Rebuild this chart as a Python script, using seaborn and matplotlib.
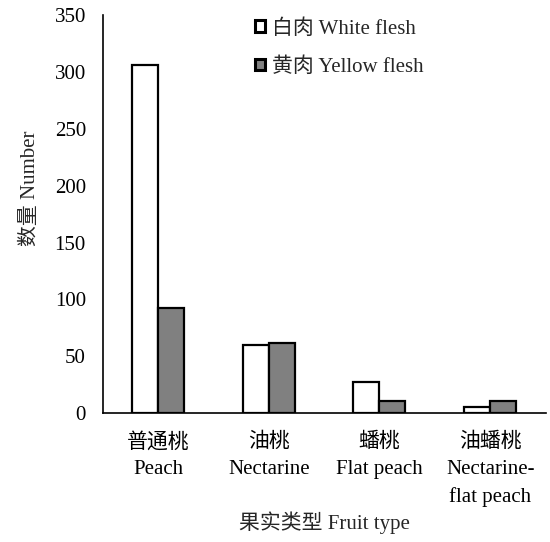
import matplotlib
matplotlib.use("Agg")
import matplotlib.pyplot as plt
import seaborn as sns
import pandas as pd
from matplotlib.patches import Patch

categories = ["普通桃\nPeach", "油桃\nNectarine", "蟠桃\nFlat peach", "油蟠桃\nNectarine-\nflat peach"]
series_names = ["白肉 White flesh", "黄肉 Yellow flesh"]
white_values = [306, 60, 27, 5]
yellow_values = [92, 62, 11, 11]
y_ticks = [0, 50, 100, 150, 200, 250, 300, 350]

df = pd.DataFrame({
    "cat": categories * 2,
    "series": [series_names[0]] * len(categories) + [series_names[1]] * len(categories),
    "value": white_values + yellow_values,
})

sns.set_theme(style="white")
plt.rcParams["font.family"] = ["Liberation Serif", "Noto Sans CJK SC"]
plt.rcParams["font.size"] = 15

fig = plt.figure(figsize=(5.5, 5.42), dpi=100)
ax = fig.add_axes([0.1865, 0.238, 0.8055, 0.734])
colors = ["#ffffff", "#808080"]
sns.barplot(data=df, x="cat", y="value", hue="series", order=categories,
            hue_order=series_names, palette=colors, edgecolor="black",
            linewidth=1.6, width=0.47, ax=ax, legend=False)

ax.set_ylim(0, 350)
ax.set_yticks(y_ticks)
ax.set_yticklabels([str(t) for t in y_ticks], fontsize=15)
ax.set_xlim(-0.5, 3.5)
ax.tick_params(axis="y", direction="in", length=5, width=1, colors="black", labelcolor="black", pad=12)
ax.tick_params(axis="x", which="major", length=0, pad=14, labelsize=15, labelcolor="black")
ax.set_xticks([0.5, 1.5, 2.5, 3.5], minor=True)
ax.tick_params(axis="x", which="minor", direction="in", length=5, width=1, colors="black")
for lbl in ax.get_xticklabels():
    lbl.set_linespacing(1.57)

for s in ["top", "right"]:
    ax.spines[s].set_visible(False)
for s in ["left", "bottom"]:
    ax.spines[s].set_color("black")
    ax.spines[s].set_linewidth(1.2)

ax.set_xlabel("果实类型 Fruit type", fontsize=15, labelpad=3)
ax.set_ylabel("数量 Number", fontsize=15)
ax.yaxis.set_label_coords(-0.141, 0.565)

handles = [Patch(facecolor=c, edgecolor="black", linewidth=2.2) for c in colors]
ax.legend(handles, series_names, loc="upper left", bbox_to_anchor=(0.301, 1.0375),
          frameon=False, handlelength=0.5, handleheight=0.5, handletextpad=0.35,
          labelspacing=0.9, fontsize=15)

fig.savefig("out.png", dpi=100, facecolor="white")
